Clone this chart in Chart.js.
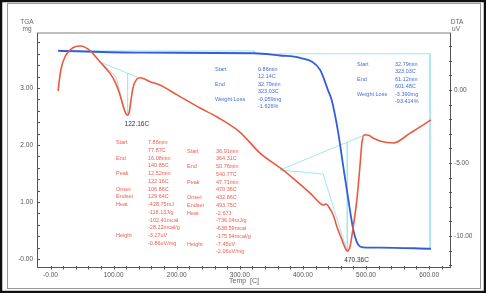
<!DOCTYPE html>
<html>
<head>
<meta charset="utf-8">
<script src="https://cdn.jsdelivr.net/npm/chart.js@4.4.0/dist/chart.umd.min.js"></script>
<style>
html, body { margin: 0; padding: 0; background: #fff; }
</style>
</head>
<body>
<canvas id="chart" width="486" height="293"></canvas>
<script>
// DTA curve: temperature (C) and signal (uV)
const dtaTemp = [12, 14, 17, 23, 31, 39, 47, 55, 63, 70.5, 78.4, 86.4, 94.3, 102.2, 110.1, 115.4, 119.7, 122.16,
  124.9, 127.6, 131.2, 136.6, 141.8, 149.8, 157.7, 165.6, 173.5, 200, 237, 264, 300, 332, 364, 384, 411, 427,
  432, 437, 441, 448, 454, 462, 467, 470.36, 474.5, 479, 485.5, 490.3, 493.5, 497, 503, 511, 522, 543, 570, 603];
const dtaHeat = [-0.07, 0.68, 1.49, 2.28, 2.74, 2.97, 3.01, 2.92, 2.69, 2.33, 1.94, 1.55, 1.14, 0.57, -0.34, -1.14, -1.64, -1.73,
  -1.49, -0.68, 0.23, 0.73, 0.84, 0.73, 0.57, 0.46, 0.34, -0.32, -1.23, -1.85, -2.88, -4.32, -5.34, -6.03, -7.05, -7.74,
  -7.88, -7.81, -8.01, -8.56, -9.38, -10.27, -10.82, -11.03, -10.75, -9.59, -7.53, -5.27, -3.63, -3.08, -3.08, -3.29, -3.49, -3.63, -2.95, -2.05];

// TGA curve: temperature (C) and mass (mg)
const tgaTemp = [12.14, 141.8, 324, 363.7, 395.4, 427.1, 439.8, 445.6, 456.1, 464, 472, 479.9, 485.3, 490.5, 501.1, 522.2, 603];
const tgaMass = [3.654, 3.62, 3.61, 3.57, 3.53, 3.32, 2.96, 2.79, 2.21, 1.62, 1.04, 0.51, 0.30, 0.22, 0.20, 0.20, 0.18];

// analysis lines
const peak1BaseT = [78.4, 137.0];
const peak1BaseV = [1.92, 0.89];
const peak1FlankT = [78.4, 104, 117];
const peak1FlankV = [1.92, 0.9, -1.3];
const peak1DropT = [122.16, 122.16];
const peak1DropV = [1.16, -1.73];
const peak2BaseT = [363.7, 501.6];
const peak2BaseV = [-5.48, -3.01];
const peak2OnsetT = [363.7, 431.9, 470.36];
const peak2OnsetV = [-5.48, -5.75, -11.1];
const peak2DropT = [470.36, 470.36];
const peak2DropV = [-3.58, -11.03];
const tgaStepT = [12.14, 323.03, 323.03, 601.48, 601.48];
const tgaStepM = [3.65, 3.65, 3.60, 3.60, 0.19];

const peakTemps = [122.16, 470.36];
const peakHeats = [-1.73, -11.03];
const peakLabels = ['122.16C', '470.36C'];

// tick labels
const xLabelTicks = [0, 100, 200, 300, 400, 500, 600];
const yLabelTicks = [0, 1, 2, 3];
const y1LabelTicks = [-10, -5, 0];

// analysis text
const dtaText1 = [['Start', ['7.86min', '77.87C']], ['End', ['16.08min', '140.85C']], ['Peak', ['12.52min', '122.16C']],
  ['Onset', ['106.86C']], ['Endset', ['129.64C']], ['Heat', ['-428.75mJ', '-118.13J/g', '-102.41mcal', '-28.22mcal/g']],
  ['Height', ['-3.27uV', '-0.86uV/mg']]];
const dtaText2 = [['Start', ['36.91min', '364.31C']], ['End', ['50.76min', '540.77C']], ['Peak', ['47.71min', '470.36C']],
  ['Onset', ['432.86C']], ['Endset', ['493.75C']], ['Heat', ['-2.67J', '-736.04mJ/g', '-638.59mcal', '-175.94mcal/g']],
  ['Height', ['-7.45uV', '-2.06uV/mg']]];
const tgaText1 = [['Start', ['0.86min', '12.14C']], ['End', ['32.79min', '323.03C']], ['Weight Loss', ['-0.059mg', '-1.626%']]];
const tgaText2 = [['Start', ['32.79min', '323.03C']], ['End', ['61.12min', '601.48C']], ['Weight Loss', ['-3.390mg', '-93.414%']]];

const FONT = '"Liberation Sans", Arial, sans-serif';
const RED = 'rgb(236, 88, 62)';
const BLUE = 'rgb(52, 92, 222)';
const CYAN = 'rgb(160, 232, 236)';

function pts(xs, ys) {
  return xs.map((x, i) => ({ x: x, y: ys[i] }));
}

function seg(xs, ys, axis, color) {
  return {
    data: pts(xs, ys), yAxisID: axis, showLine: true, borderColor: color,
    borderWidth: 1, pointRadius: 0, tension: 0
  };
}

function fmt0(v) {
  return v === 0 ? '-0.00' : v.toFixed(2);
}

function drawBlock(c, rows, lx, vx, y0, step, color) {
  c.fillStyle = color;
  c.font = '5.5px ' + FONT;
  c.textBaseline = 'middle';
  c.textAlign = 'left';
  let i = 0;
  rows.forEach(r => {
    c.fillText(r[0], lx, y0 + i * step);
    r[1].forEach(v => {
      c.fillText(v, vx, y0 + i * step);
      i++;
    });
  });
}

const decor = {
  id: 'decor',
  beforeDraw(chart) {
    const c = chart.ctx;
    c.save();
    c.fillStyle = '#fff';
    c.fillRect(0, 0, chart.width, chart.height);
    c.restore();
  },
  afterDraw(chart) {
    const c = chart.ctx, a = chart.chartArea;
    const sx = chart.scales.x, sy = chart.scales.y, sr = chart.scales.y1;
    c.save();
    const line = (x1, y1, x2, y2) => { c.beginPath(); c.moveTo(x1, y1); c.lineTo(x2, y2); c.stroke(); };

    // outer frames
    c.strokeStyle = '#9a9a9a'; c.lineWidth = 1;
    c.strokeRect(7.5, 3.5, 473, 285);
    c.strokeStyle = '#111'; c.lineWidth = 2.5;
    c.strokeRect(1, 1, chart.width - 2, chart.height - 2);

    // plot box
    c.strokeStyle = '#a8a8a8'; c.lineWidth = 1.5;
    line(a.left, a.top, a.right, a.top);
    c.strokeStyle = '#555'; c.lineWidth = 1;
    line(a.left + 0.5, a.top, a.left + 0.5, a.bottom);
    line(a.right - 0.5, a.top, a.right - 0.5, a.bottom);
    line(a.left, a.bottom - 0.5, a.right, a.bottom - 0.5);

    // tick marks
    for (let t = 0; t <= 620; t += 20) {
      const px = Math.round(sx.getPixelForValue(t)) + 0.5;
      line(px, a.bottom - 2, px, a.bottom + 1.5);
    }
    for (let m = 0; m <= 3.9; m += 0.2) {
      const py = Math.round(sy.getPixelForValue(m)) + 0.5;
      line(a.left, py, a.left + 3, py);
    }
    for (let u = -12; u <= 3; u += 1) {
      const py = Math.round(sr.getPixelForValue(u)) + 0.5;
      line(a.right - 2, py, a.right + 1, py);
    }

    // axis titles
    c.fillStyle = '#666';
    c.font = '6.5px ' + FONT;
    c.textAlign = 'center';
    c.textBaseline = 'middle';
    c.fillText('TGA', 27, 22.5);
    c.fillText('mg', 27, 29.5);
    c.fillText('DTA', 457, 22.5);
    c.fillText('uV', 456, 29.5);
    c.font = '7px ' + FONT;
    c.fillText('Temp  [C]', (a.left + a.right) / 2, 281.5);

    // peak labels
    c.fillStyle = '#333';
    c.font = '6.5px ' + FONT;
    c.textAlign = 'left';
    peakTemps.forEach((t, i) => {
      c.fillText(peakLabels[i], sx.getPixelForValue(t) - 3, sr.getPixelForValue(peakHeats[i]) + 9);
    });

    // analysis blocks
    drawBlock(c, dtaText1, 116, 148, 142.7, 7.75, 'rgb(238, 96, 86)');
    drawBlock(c, dtaText2, 187, 216, 151.2, 7.75, 'rgb(238, 96, 86)');
    drawBlock(c, tgaText1, 215, 258, 69.3, 7.5, 'rgb(70, 110, 222)');
    drawBlock(c, tgaText2, 357, 395, 64.3, 7.5, 'rgb(70, 110, 222)');
    c.restore();
  }
};

new Chart(document.getElementById('chart').getContext('2d'), {
  type: 'scatter',
  data: {
    datasets: [
      {
        data: pts(dtaTemp, dtaHeat), yAxisID: 'y1', showLine: true, borderColor: RED,
        borderWidth: 1.6, pointRadius: 0, cubicInterpolationMode: 'monotone'
      },
      {
        data: pts(tgaTemp, tgaMass), yAxisID: 'y', showLine: true, borderColor: BLUE,
        borderWidth: 1.8, pointRadius: 0, cubicInterpolationMode: 'monotone'
      },
      seg(peak1BaseT, peak1BaseV, 'y1', CYAN),
      seg(peak1FlankT, peak1FlankV, 'y1', 'rgb(180, 220, 200)'),
      seg(peak1DropT, peak1DropV, 'y1', CYAN),
      seg(peak2BaseT, peak2BaseV, 'y1', CYAN),
      seg(peak2OnsetT, peak2OnsetV, 'y1', CYAN),
      seg(peak2DropT, peak2DropV, 'y1', CYAN),
      seg(tgaStepT, tgaStepM, 'y', CYAN)
    ]
  },
  options: {
    responsive: false,
    animation: false,
    devicePixelRatio: 1,
    layout: { padding: { top: 33, left: 0, right: 0, bottom: 0 } },
    plugins: { legend: { display: false }, tooltip: { enabled: false } },
    scales: {
      x: {
        type: 'linear', position: 'bottom', min: -21.4, max: 634.7,
        afterFit: s => { s.height = 25; },
        afterBuildTicks: s => { s.ticks = xLabelTicks.map(v => ({ value: v })); },
        grid: { display: false, drawTicks: false },
        border: { display: false },
        ticks: { autoSkip: false, maxRotation: 0, padding: 3, color: '#555', font: { family: FONT, size: 6.5 }, callback: v => fmt0(v) }
      },
      y: {
        type: 'linear', position: 'left', min: -0.158, max: 3.965,
        afterFit: s => { s.width = 37; },
        afterBuildTicks: s => { s.ticks = yLabelTicks.map(v => ({ value: v })); },
        grid: { display: false, drawTicks: false },
        border: { display: false },
        ticks: { autoSkip: false, padding: 4, color: '#555', font: { family: FONT, size: 6.5 }, callback: v => fmt0(v) }
      },
      y1: {
        type: 'linear', position: 'right', min: -12.19, max: 3.904,
        afterFit: s => { s.width = 35; },
        afterBuildTicks: s => { s.ticks = y1LabelTicks.map(v => ({ value: v })); },
        grid: { display: false, drawTicks: false },
        border: { display: false },
        ticks: { autoSkip: false, padding: 3, color: '#555', font: { family: FONT, size: 6.5 }, callback: v => v.toFixed(2) }
      }
    }
  },
  plugins: [decor]
});
</script>
</body>
</html>
